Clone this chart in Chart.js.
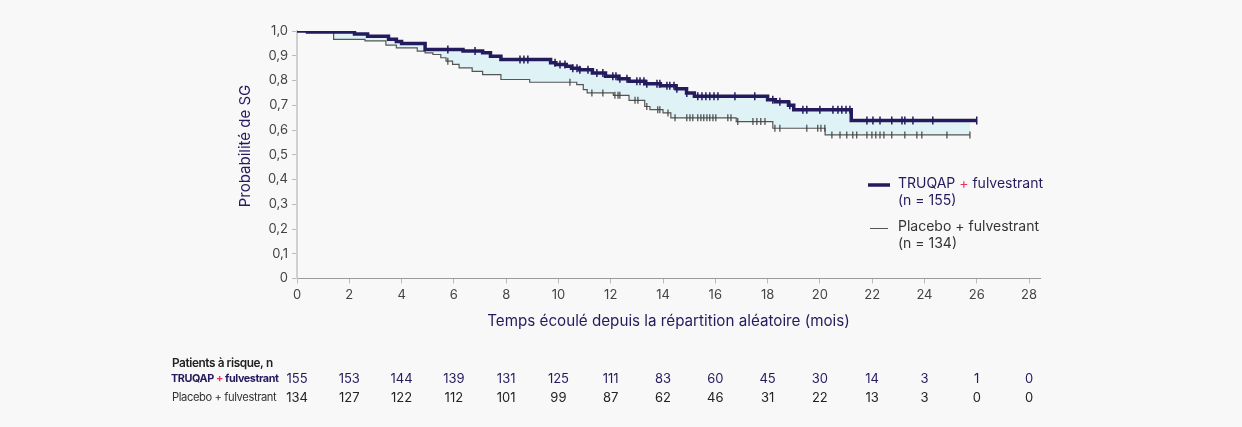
<!DOCTYPE html>
<html>
<head>
<meta charset="utf-8">
<script src="https://cdn.jsdelivr.net/npm/chart.js@4.4.0/dist/chart.umd.min.js"></script>
<style>
  html, body { margin: 0; padding: 0; background: #f8f8f8; }
  #wrap { width: 1242px; height: 427px; position: relative; }
</style>
</head>
<body>
<div id="wrap"><canvas id="myChart" width="1242" height="427"></canvas></div>
<script>
// Kaplan-Meier steps (month, survival)
const truqapTimes = [0, 0.4, 2.2, 2.7, 3.5, 3.8, 4.0, 4.9, 6.35, 7.1, 7.4, 7.8, 9.7, 9.9, 10.3, 10.5, 10.8, 11.3, 11.8, 12.3, 12.7, 13.3, 13.9, 14.5, 14.9, 15.2, 18.0, 18.3, 18.8, 19.0, 21.2, 26.0];
const truqapSurv  = [1.0, 0.996, 0.988, 0.979, 0.967, 0.958, 0.95, 0.925, 0.919, 0.912, 0.898, 0.885, 0.872, 0.865, 0.858, 0.85, 0.843, 0.83, 0.817, 0.807, 0.797, 0.787, 0.779, 0.767, 0.75, 0.736, 0.722, 0.714, 0.7, 0.682, 0.638, 0.638];

const placeboTimes = [0, 0.5, 1.4, 2.6, 3.4, 3.8, 4.6, 4.9, 5.2, 5.5, 5.7, 5.95, 6.2, 6.7, 7.1, 7.8, 8.9, 10.7, 10.95, 11.1, 12.1, 12.7, 13.3, 13.5, 14.0, 14.3, 16.8, 18.2, 20.2, 25.74];
const placeboSurv  = [1.0, 0.997, 0.966, 0.96, 0.943, 0.932, 0.919, 0.912, 0.905, 0.892, 0.878, 0.865, 0.851, 0.837, 0.824, 0.804, 0.793, 0.783, 0.763, 0.75, 0.74, 0.72, 0.695, 0.682, 0.669, 0.649, 0.634, 0.607, 0.58, 0.58];

// censored observations (months)
const truqapCensor = [5.77, 6.81, 8.53, 8.68, 8.83, 9.87, 10.06, 10.25, 10.55, 10.71, 10.82, 11.13, 11.47, 11.7, 12.08, 12.2, 12.35, 12.62, 13.0, 13.12, 13.27, 13.38, 13.77, 13.88, 14.15, 14.26, 14.42, 14.53, 14.91, 15.33, 15.49, 15.64, 15.79, 15.95, 16.1, 16.75, 17.51, 18.2, 18.47, 18.85, 19.35, 19.5, 20.0, 20.5, 20.69, 20.84, 21.0, 21.15, 21.8, 22.03, 22.3, 22.75, 23.14, 23.25, 23.56, 24.32, 26.0];
const placeboCensor = [5.77, 10.44, 11.28, 11.7, 12.16, 12.28, 12.35, 12.93, 13.04, 13.38, 13.8, 13.88, 14.19, 14.46, 14.91, 15.03, 15.14, 15.33, 15.45, 15.56, 15.68, 15.79, 15.91, 16.02, 16.48, 16.6, 16.86, 17.44, 17.59, 17.74, 17.9, 18.28, 18.47, 19.5, 19.92, 20.04, 20.19, 20.46, 20.77, 21.03, 21.26, 21.41, 21.8, 21.99, 22.14, 22.3, 22.45, 22.75, 23.25, 23.71, 23.9, 24.86, 25.74];

// patients at risk (also the x tick positions)
const riskTimes   = [0, 2, 4, 6, 8, 10, 12, 14, 16, 18, 20, 22, 24, 26, 28];
const truqapRisk  = [155, 153, 144, 139, 131, 125, 111, 83, 60, 45, 30, 14, 3, 1, 0];
const placeboRisk = [134, 127, 122, 112, 101, 99, 87, 62, 46, 31, 22, 13, 3, 0, 0];

const NAVY = "#241a5e";
const GREY = "#555555";
const FILL = "#dff2f5";
const FONT = "Inter, 'Noto Sans', sans-serif";

function steps(times, surv) {
  return times.map((t, i) => ({ x: t, y: surv[i] }));
}
function survAt(times, surv, t) {
  let s = surv[0];
  for (let i = 0; i < times.length; i++) { if (times[i] <= t) s = surv[i]; }
  return s;
}
function censors(list, times, surv) {
  return list.map(t => ({ x: t, y: survAt(times, surv, t) }));
}

// writes parts of a label in different colours, one after the other
function parts(ctx, list, x, y) {
  list.forEach(p => { ctx.fillStyle = p[1]; ctx.fillText(p[0], x, y); x += ctx.measureText(p[0]).width; });
}

const extras = {
  id: "extras",
  afterDraw(chart) {
    const ctx = chart.ctx;
    const xs = chart.scales.x;
    ctx.save();
    ctx.textBaseline = "middle";
    ctx.textAlign = "left";

    // y title
    ctx.save();
    ctx.translate(245, 146);
    ctx.rotate(-Math.PI / 2);
    ctx.textAlign = "center";
    ctx.font = "15px " + FONT;
    ctx.fillStyle = NAVY;
    ctx.fillText("Probabilité de SG", 0, 0);
    ctx.restore();

    // legend
    ctx.lineCap = "butt";
    ctx.strokeStyle = NAVY; ctx.lineWidth = 3.5;
    ctx.beginPath(); ctx.moveTo(868, 185); ctx.lineTo(890, 185); ctx.stroke();
    ctx.strokeStyle = GREY; ctx.lineWidth = 1;
    ctx.beginPath(); ctx.moveTo(870, 228.5); ctx.lineTo(888, 228.5); ctx.stroke();
    ctx.font = "14px " + FONT;
    parts(ctx, [["TRUQAP ", NAVY], ["+ ", "#e8335a"], ["fulvestrant", NAVY]], 898, 184);
    ctx.fillStyle = NAVY; ctx.fillText("(n = 155)", 898, 201);
    ctx.fillStyle = "#333333";
    ctx.fillText("Placebo + fulvestrant", 898, 227);
    ctx.fillText("(n = 134)", 898, 244);

    // risk table
    ctx.letterSpacing = "-0.4px";
    ctx.font = "600 11.8px " + FONT;
    ctx.fillStyle = "#222222";
    ctx.fillText("Patients à risque, n", 172, 363);
    ctx.font = "bold 10.8px " + FONT;
    parts(ctx, [["TRUQAP ", NAVY], ["+ ", "#e8335a"], ["fulvestrant", NAVY]], 171, 379);
    ctx.font = "11.2px " + FONT;
    ctx.fillStyle = "#333333";
    ctx.fillText("Placebo + fulvestrant", 172, 398);
    ctx.letterSpacing = "0px";
    ctx.font = "13px " + FONT;
    ctx.textAlign = "center";
    riskTimes.forEach((t, i) => {
      const px = xs.getPixelForValue(t);
      ctx.fillStyle = NAVY; ctx.fillText(String(truqapRisk[i]), px, 379);
      ctx.fillStyle = "#222222"; ctx.fillText(String(placeboRisk[i]), px, 398);
    });
    ctx.restore();
  }
};

new Chart("myChart", {
  type: "line",
  data: {
    datasets: [
      {
        type: "scatter",
        data: censors(truqapCensor, truqapTimes, truqapSurv),
        pointStyle: "line", rotation: 90, radius: 4, hoverRadius: 4,
        borderColor: NAVY, borderWidth: 1.5, backgroundColor: NAVY
      },
      {
        data: steps(truqapTimes, truqapSurv),
        stepped: "before", borderColor: NAVY, borderWidth: 3.5,
        pointRadius: 0, fill: { target: 3, above: FILL, below: FILL }
      },
      {
        type: "scatter",
        data: censors(placeboCensor, placeboTimes, placeboSurv),
        pointStyle: "line", rotation: 90, radius: 3.5, hoverRadius: 3.5,
        borderColor: "#444444", borderWidth: 1.2, backgroundColor: "#444444"
      },
      {
        data: steps(placeboTimes, placeboSurv),
        stepped: "before", borderColor: GREY, borderWidth: 1.2,
        pointRadius: 0, fill: false
      }
    ]
  },
  options: {
    responsive: false,
    animation: false,
    events: [],
    layout: { padding: { left: 232, right: 202, top: 31, bottom: 92.5 } },
    plugins: {
      legend: { display: false },
      tooltip: { enabled: false },
      filler: { drawTime: "beforeDatasetsDraw" }
    },
    scales: {
      x: {
        type: "linear", min: 0, max: 28.42,
        afterBuildTicks: s => { s.ticks = riskTimes.map(v => ({ value: v })); },
        ticks: { color: "#444444", font: { family: FONT, size: 13 }, padding: 4 },
        grid: { drawOnChartArea: false, drawTicks: true, tickLength: 5, color: "#bbbbbb" },
        border: { color: "#9a9a9a", width: 1 },
        title: { display: true, text: "Temps écoulé depuis la répartition aléatoire (mois)",
                 color: NAVY, font: { family: FONT, size: 15.2 }, padding: { top: 5 } },
        afterFit: s => { s.height = 56; }
      },
      y: {
        min: 0, max: 1,
        ticks: { stepSize: 0.1, color: "#444444", font: { family: FONT, size: 13 }, padding: 4,
                 callback: v => v === 0 ? "0" : v.toFixed(1).replace(".", ",") },
        grid: { drawOnChartArea: false, drawTicks: true, tickLength: 5, color: "#bbbbbb" },
        border: { color: "#d0d0d0", width: 2 },
        afterFit: s => { s.width = 65; }
      }
    }
  },
  plugins: [extras]
});
</script>
</body>
</html>
